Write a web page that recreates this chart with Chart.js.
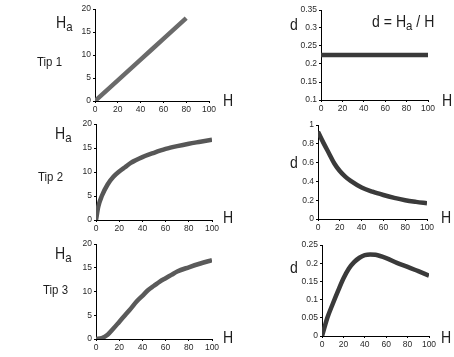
<!DOCTYPE html>
<html><head><meta charset="utf-8">
<script src="https://cdn.jsdelivr.net/npm/chart.js@4/dist/chart.umd.min.js"></script>
<style>
body{margin:0;background:#fff;width:454px;height:357px;overflow:hidden;position:relative;font-family:"Liberation Sans",Arial,sans-serif;color:#1e1e1e}
canvas{position:absolute;left:0;top:0}
.lbl{position:absolute;white-space:nowrap;line-height:1;transform:scaleX(0.88);transform-origin:left top}
.big{font-size:16px}
.tip{font-size:13px}
.sub{font-size:13px;position:relative;top:3px}
</style></head><body>
<canvas id="c1" width="454" height="357"></canvas>
<canvas id="c2" width="454" height="357"></canvas>
<canvas id="c3" width="454" height="357"></canvas>
<canvas id="c4" width="454" height="357"></canvas>
<canvas id="c5" width="454" height="357"></canvas>
<canvas id="c6" width="454" height="357"></canvas>

<div class="lbl big" style="left:56px;top:15px">H<span class="sub">a</span></div>
<div class="lbl tip" style="left:37px;top:55px">Tip 1</div>
<div class="lbl big" style="left:223px;top:93px">H</div>
<div class="lbl big" style="left:290px;top:17px">d</div>
<div class="lbl big" style="left:372px;top:14px">d = H<span class="sub">a</span> / H</div>
<div class="lbl big" style="left:442px;top:93px">H</div>

<div class="lbl big" style="left:55px;top:126px">H<span class="sub">a</span></div>
<div class="lbl tip" style="left:38px;top:170px">Tip 2</div>
<div class="lbl big" style="left:223px;top:210px">H</div>
<div class="lbl big" style="left:290px;top:155px">d</div>
<div class="lbl big" style="left:441px;top:210px">H</div>

<div class="lbl big" style="left:55px;top:246px">H<span class="sub">a</span></div>
<div class="lbl tip" style="left:43px;top:283px">Tip 3</div>
<div class="lbl big" style="left:223px;top:330px">H</div>
<div class="lbl big" style="left:290px;top:260px">d</div>
<div class="lbl big" style="left:441px;top:330px">H</div>

<script>
// ---- data ----
const xTicks = [0, 20, 40, 60, 80, 100];

const hLine = [0, 20, 40, 60, 80];
const haLine = [0, 4.5, 9, 13.5, 18];

const hFlat = [0, 50, 100];
const dFlat = [0.225, 0.225, 0.225];

const hSat = [0, 2, 5, 10, 15, 20, 25, 30, 40, 50, 60, 70, 80, 90, 100];
const haSat = [0, 2.8, 5.0, 7.4, 9.0, 10.1, 11.0, 11.9, 13.1, 14.0, 14.8, 15.4, 15.9, 16.3, 16.7];

const hDec = [0, 2, 5, 10, 15, 20, 25, 30, 40, 50, 60, 70, 80, 90, 100];
const dDec = [0.93, 0.88, 0.81, 0.7, 0.59, 0.51, 0.45, 0.405, 0.335, 0.29, 0.255, 0.225, 0.2, 0.182, 0.167];

const hSig = [0, 5, 10, 15, 20, 25, 30, 35, 40, 45, 50, 55, 60, 65, 70, 80, 90, 100];
const haSig = [0, 0.2, 0.9, 2.2, 3.6, 5.0, 6.4, 7.9, 9.1, 10.3, 11.2, 12.1, 12.8, 13.5, 14.2, 15.1, 15.9, 16.6];

const hPeak = [0, 2, 5, 10, 15, 20, 25, 30, 35, 40, 45, 50, 60, 70, 80, 90, 100];
const dPeak = [0, 0.02, 0.05, 0.088, 0.124, 0.158, 0.185, 0.203, 0.215, 0.222, 0.224, 0.223, 0.214, 0.201, 0.19, 0.178, 0.166];

// ---- drawing ----
const W = 454, HH = 357, YW = 30, XH = 14;
const tickFont = {family: '"Liberation Sans Narrow", "Liberation Sans", Arial, sans-serif', size: 8.5};
const tickColor = '#2a2a2a';
const fmt = v => String(Number(Number(v).toFixed(2)));

function panel(id, box, xs, ys, yMin, yMax, yStep, color) {
  new Chart(document.getElementById(id), {
    type: 'line',
    data: {datasets: [{
      data: xs.map((x, i) => ({x: x, y: ys[i]})),
      borderColor: color, borderWidth: 4.5, pointRadius: 0,
      cubicInterpolationMode: 'monotone', fill: false, borderCapStyle: 'butt'
    }]},
    options: {
      responsive: false, animation: false, events: [],
      layout: {padding: {left: box.l - YW, right: W - box.r, top: box.t, bottom: HH - box.b - XH}},
      plugins: {legend: {display: false}, tooltip: {enabled: false}},
      scales: {
        x: {
          type: 'linear', min: 0, max: 100,
          afterFit: s => { s.height = XH; },
          afterBuildTicks: s => { s.ticks = xTicks.map(v => ({value: v})); },
          grid: {drawOnChartArea: false, tickLength: 2, color: '#000'},
          border: {color: '#000', width: 1},
          ticks: {font: tickFont, color: tickColor, padding: 2, maxRotation: 0, autoSkip: false, callback: fmt}
        },
        y: {
          type: 'linear', min: yMin, max: yMax,
          afterFit: s => { s.width = YW; },
          grid: {drawOnChartArea: false, tickLength: 2, color: '#000'},
          border: {color: '#000', width: 1},
          ticks: {stepSize: yStep, font: tickFont, color: tickColor, padding: 2, autoSkip: false, callback: fmt}
        }
      }
    }
  });
}

panel('c1', {l: 95, r: 209, t: 9, b: 101}, hLine, haLine, 0, 20, 5, '#6a6a6a');
panel('c2', {l: 321, r: 428, t: 10, b: 100}, hFlat, dFlat, 0.1, 0.35, 0.05, '#3a3a3a');
panel('c3', {l: 96, r: 212, t: 124, b: 220}, hSat, haSat, 0, 20, 5, '#575757');
panel('c4', {l: 318, r: 427, t: 125, b: 219}, hDec, dDec, 0, 1, 0.2, '#3a3a3a');
panel('c5', {l: 96, r: 212, t: 244, b: 339}, hSig, haSig, 0, 20, 5, '#5a5a5a');
panel('c6', {l: 322, r: 429, t: 245, b: 336}, hPeak, dPeak, 0, 0.25, 0.05, '#3a3a3a');
</script>
</body></html>
